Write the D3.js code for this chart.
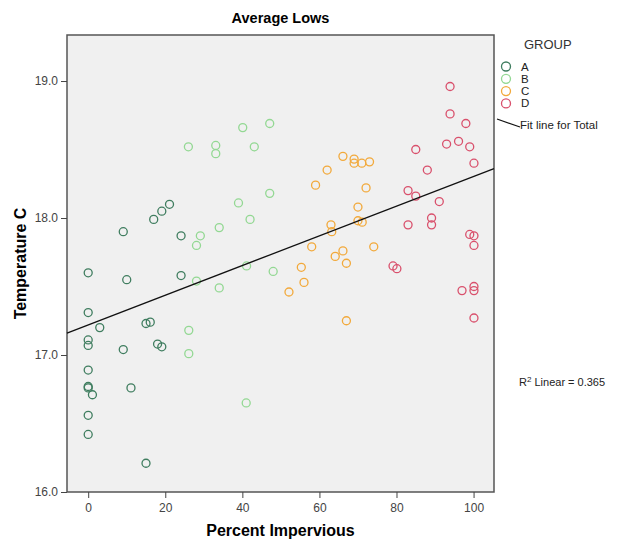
<!DOCTYPE html>
<html>
<head>
<meta charset="utf-8">
<script src="https://cdn.jsdelivr.net/npm/d3@7"></script>
<style>
  body { margin: 0; background: #fff; }
  svg { font-family: "Liberation Sans", Arial, sans-serif; }
</style>
</head>
<body>
<svg id="chart" width="619" height="539"></svg>
<script>
// values
const groups = ["A", "B", "C", "D"];
const pctA = [0, 0, 0, 0, 0, 0, 0, 1.1, 0, 0, 3, 9.1, 9.1, 10, 11.1, 15, 16.1, 15, 17, 18, 19.1, 19.1, 21.1, 24.1, 24.1];
const tempA = [17.60, 17.31, 17.11, 17.07, 16.89, 16.77, 16.76, 16.71, 16.56, 16.42, 17.20, 17.90, 17.04, 17.55, 16.76, 17.23, 17.24, 16.21, 17.99, 17.08, 17.06, 18.05, 18.10, 17.87, 17.58];
const pctB = [40.1, 47.1, 26, 33.1, 33.1, 43.1, 47.1, 39, 42, 34, 29.1, 28.1, 41.1, 48, 28.1, 34, 26.1, 26.1, 41];
const tempB = [18.66, 18.69, 18.52, 18.53, 18.47, 18.52, 18.18, 18.11, 17.99, 17.93, 17.87, 17.80, 17.65, 17.61, 17.54, 17.49, 17.18, 17.01, 16.65];
const pctC = [66.1, 69, 69, 71, 73, 62, 59, 72.1, 70, 70, 71.1, 63, 63.2, 58, 66.1, 64.1, 67, 74.1, 55.3, 56, 52.1, 67];
const tempC = [18.45, 18.43, 18.40, 18.40, 18.41, 18.35, 18.24, 18.22, 18.08, 17.98, 17.97, 17.95, 17.90, 17.79, 17.76, 17.72, 17.67, 17.79, 17.64, 17.53, 17.46, 17.25];
const pctD = [93.9, 93.9, 98, 93, 96.1, 99, 85, 100.1, 88, 83, 85, 91.1, 89.1, 89.1, 83, 99, 100.1, 100.1, 79.1, 80.1, 100.1, 100.1, 97, 100.1];
const tempD = [18.96, 18.76, 18.69, 18.54, 18.56, 18.52, 18.50, 18.40, 18.35, 18.20, 18.16, 18.12, 18.00, 17.95, 17.95, 17.88, 17.87, 17.80, 17.65, 17.63, 17.50, 17.47, 17.47, 17.27];
const xTicks = [0, 20, 40, 60, 80, 100];
const yTicks = [16, 17, 18, 19];
const fitIntercept = 17.22;
const fitSlope = 0.01083;
const rSquared = 0.365;

const colors = { A: "#3f7d5f", B: "#93d893", C: "#f2a93b", D: "#d9506c" };

const svg = d3.select("#chart");
const plot = { left: 67, right: 494, top: 35, bottom: 492 };

const x = d3.scaleLinear().domain([-5.5, 105.3]).range([plot.left, plot.right]);
const y = d3.scaleLinear().domain([16, 19.336]).range([plot.bottom, plot.top]);

svg.append("rect")
    .attr("x", plot.left).attr("y", plot.top)
    .attr("width", plot.right - plot.left).attr("height", plot.bottom - plot.top)
    .attr("fill", "#f0f0f0").attr("stroke", "#555").attr("stroke-width", 1.5);

// axes
const xAxis = svg.append("g")
    .attr("transform", `translate(0,${plot.bottom})`)
    .call(d3.axisBottom(x).tickValues(xTicks).tickSize(6).tickPadding(5));
const yAxis = svg.append("g")
    .attr("transform", `translate(${plot.left},0)`)
    .call(d3.axisLeft(y).tickValues(yTicks).tickFormat(d3.format(".1f")).tickSize(6).tickPadding(3));
[xAxis, yAxis].forEach(a => {
    a.select(".domain").remove();
    a.selectAll("line").attr("stroke", "#444");
    a.selectAll("text").attr("fill", "#444").style("font-size", "12px");
});

// points
const series = [
    { key: "A", xs: pctA, ys: tempA },
    { key: "B", xs: pctB, ys: tempB },
    { key: "C", xs: pctC, ys: tempC },
    { key: "D", xs: pctD, ys: tempD }
];
series.forEach(s => {
    const pts = s.xs.map((v, i) => ({ x: v, y: s.ys[i] }));
    svg.append("g")
        .selectAll("circle")
        .data(pts)
        .enter()
        .append("circle")
        .attr("cx", d => x(d.x))
        .attr("cy", d => y(d.y))
        .attr("r", 4)
        .attr("fill", "none")
        .attr("stroke", colors[s.key])
        .attr("stroke-width", 1.3);
});

// fit line for total
const xd = x.domain();
svg.append("line")
    .attr("x1", x(xd[0])).attr("y1", y(fitIntercept + fitSlope * xd[0]))
    .attr("x2", x(xd[1])).attr("y2", y(fitIntercept + fitSlope * xd[1]))
    .attr("stroke", "#111").attr("stroke-width", 1.3);

// titles
svg.append("text")
    .attr("x", (plot.left + plot.right) / 2).attr("y", 23)
    .attr("text-anchor", "middle")
    .style("font-size", "14.5px").style("font-weight", "bold")
    .text("Average Lows");
svg.append("text")
    .attr("x", (plot.left + plot.right) / 2).attr("y", 536)
    .attr("text-anchor", "middle")
    .style("font-size", "16px").style("font-weight", "bold")
    .text("Percent Impervious");
svg.append("text")
    .attr("transform", `translate(26,${(plot.top + plot.bottom) / 2}) rotate(-90)`)
    .attr("text-anchor", "middle")
    .style("font-size", "16px").style("font-weight", "bold")
    .text("Temperature C");

// legend
const legend = svg.append("g");
legend.append("text")
    .attr("x", 524).attr("y", 49)
    .style("font-size", "13px").attr("fill", "#333")
    .text("GROUP");
groups.forEach((g, i) => {
    legend.append("circle")
        .attr("cx", 506).attr("cy", 66.5 + i * 12.3)
        .attr("r", 4.5)
        .attr("fill", "none").attr("stroke", colors[g]).attr("stroke-width", 1.3);
    legend.append("text")
        .attr("x", 521).attr("y", 70.5 + i * 12.3)
        .style("font-size", "11.5px").attr("fill", "#222")
        .text(g);
});
legend.append("line")
    .attr("x1", 497).attr("y1", 119).attr("x2", 520).attr("y2", 127)
    .attr("stroke", "#111").attr("stroke-width", 1.2);
legend.append("text")
    .attr("x", 520).attr("y", 129)
    .style("font-size", "11.5px").attr("fill", "#222")
    .text("Fit line for Total");

const r2 = svg.append("text")
    .attr("x", 519).attr("y", 386)
    .style("font-size", "11px").attr("fill", "#222");
r2.append("tspan").text("R");
r2.append("tspan").attr("dy", -4).style("font-size", "8px").text("2");
r2.append("tspan").attr("dy", 4).text(" Linear = " + rSquared);
</script>
</body>
</html>
